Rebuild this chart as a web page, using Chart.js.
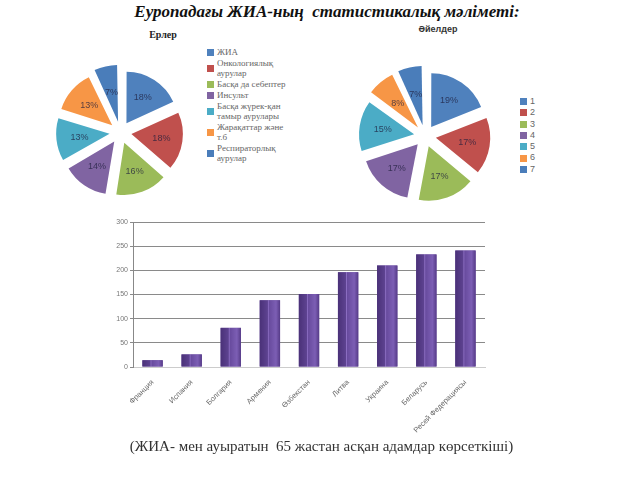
<!DOCTYPE html>
<html>
<head>
<meta charset="utf-8">
<script src="https://cdn.jsdelivr.net/npm/chart.js"></script>
<style>
    body { margin: 0; background: #fff; }
    #page { position: relative; width: 640px; height: 480px; overflow: hidden; }
    .abs { position: absolute; }
    #mainTitle {
        left: 0; width: 640px; top: 2px; text-align: center;
        font: italic bold 17px "Liberation Serif", serif; color: #111;
        padding-left: 14px; box-sizing: border-box;
    }
    #caption {
        left: 0; width: 640px; top: 438px; text-align: center;
        font: 15px "Liberation Serif", serif; color: #333;
        padding-left: 3px; box-sizing: border-box;
    }
    #menTitle { left: 128px; width: 70px; top: 29px; text-align: center;
        font: bold 10px "Liberation Serif", serif; color: #222; }
    #womenTitle { left: 403px; width: 70px; top: 24px; text-align: center;
        font: bold 9px "Liberation Sans", sans-serif; color: #333; }
    #menLegend { left: 207px; top: 47px; width: 80px;
        font: 9px "Liberation Serif", serif; color: #666; line-height: 10px; }
    #womenLegend { left: 520px; top: 96px;
        font: 9px "Liberation Sans", sans-serif; color: #666; line-height: 11.3px; }
    .item { display: flex; align-items: center; }
    .sw { width: 7px; height: 7px; flex: none; margin-right: 3px; }
    #menLegend .item { margin-bottom: 1px; }
</style>
</head>
<body>
<div id="page">
    <div id="mainTitle" class="abs">Еуропадағы ЖИА-ның&nbsp; статистикалық мәліметі:</div>
    <div id="menTitle" class="abs">Ерлер</div>
    <div id="womenTitle" class="abs">Әйелдер</div>
    <canvas id="menPie" class="abs" width="145" height="145" style="left:48px;top:60px"></canvas>
    <canvas id="womenPie" class="abs" width="150" height="150" style="left:350px;top:61px"></canvas>
    <div id="menLegend" class="abs"></div>
    <div id="womenLegend" class="abs"></div>
    <canvas id="bars" class="abs" width="400" height="236" style="left:95px;top:212px"></canvas>
    <div id="caption" class="abs">(ЖИА- мен ауыратын&nbsp; 65 жастан асқан адамдар көрсеткіші)</div>
</div>

<script>
    // Деректер
    const causes = ['ЖИА', 'Онкологиялық аурулар', 'Басқа да себептер', 'Инсульт',
        'Басқа жүрек-қан тамыр аурулары', 'Жарақаттар және т.б', 'Респираторлық аурулар'];
    const womenLabels = ['1', '2', '3', '4', '5', '6', '7'];
    const menShares = [18, 18, 16, 14, 13, 13, 7];
    const womenShares = [19, 17, 17, 17, 15, 8, 7];
    const sliceColors = ['#4F81BD', '#C0504D', '#9BBB59', '#8064A2', '#4BACC6', '#F79646', '#4A7DBA'];

    const countries = ['Франция', 'Испания', 'Болгария', 'Армения', 'Өзбекстан',
        'Литва', 'Украина', 'Беларусь', 'Ресей Федерациясы'];
    const patients = [14, 26, 81, 138, 151, 196, 210, 233, 241];
    const yTicks = [0, 50, 100, 150, 200, 250, 300];

    // Пайыз белгілері (Chart.js жылжытуды offset/4 етіп салады)
    const percentLabels = {
        id: 'percentLabels',
        afterDatasetsDraw(chart) {
            const ctx = chart.ctx;
            const meta = chart.getDatasetMeta(0);
            const values = chart.data.datasets[0].data;
            const off = chart.data.datasets[0].offset / 4;
            ctx.save();
            ctx.font = '9px "Liberation Sans", sans-serif';
            ctx.fillStyle = 'rgba(30,30,60,0.75)';
            ctx.textAlign = 'center';
            ctx.textBaseline = 'middle';
            meta.data.forEach((arc, i) => {
                const mid = (arc.startAngle + arc.endAngle) / 2;
                const r = arc.outerRadius * 0.6 + off;
                ctx.fillText(values[i] + '%', arc.x + Math.cos(mid) * r, arc.y + Math.sin(mid) * r);
            });
            ctx.restore();
        }
    };

    function makePie(id, data) {
        new Chart(document.getElementById(id), {
            type: 'pie',
            data: {
                labels: causes,
                datasets: [{
                    data: data,
                    backgroundColor: sliceColors,
                    borderWidth: 0,
                    offset: 44
                }]
            },
            options: {
                responsive: false,
                animation: false,
                layout: { padding: 0 },
                plugins: { legend: { display: false }, tooltip: { enabled: false } }
            },
            plugins: [percentLabels]
        });
    }

    makePie('menPie', menShares);
    makePie('womenPie', womenShares);

    // HTML легендалар
    function buildLegend(id, labels) {
        const box = document.getElementById(id);
        labels.forEach((txt, i) => {
            const item = document.createElement('div');
            item.className = 'item';
            item.innerHTML = '<span class="sw" style="background:' + sliceColors[i] + '"></span><span>' + txt + '</span>';
            box.appendChild(item);
        });
    }
    buildLegend('menLegend', causes);
    buildLegend('womenLegend', womenLabels);

    // Бағаналарға градиент
    const barShade = {
        id: 'barShade',
        afterDatasetsDraw(chart) {
            const ctx = chart.ctx;
            chart.getDatasetMeta(0).data.forEach(bar => {
                const left = bar.x - bar.width / 2;
                const g = ctx.createLinearGradient(left, 0, left + bar.width, 0);
                g.addColorStop(0, '#4a3178');
                g.addColorStop(0.38, '#5d4290');
                g.addColorStop(0.42, '#8b6dc1');
                g.addColorStop(0.47, '#684b9e');
                g.addColorStop(0.8, '#7c5eb4');
                g.addColorStop(1, '#563b88');
                ctx.fillStyle = g;
                ctx.fillRect(left, bar.y, bar.width, bar.base - bar.y);
            });
        }
    };

    new Chart(document.getElementById('bars'), {
        type: 'bar',
        data: {
            labels: countries,
            datasets: [{
                data: patients,
                backgroundColor: '#6a4c9f',
                barPercentage: 0.52,
                categoryPercentage: 1
            }]
        },
        options: {
            responsive: false,
            animation: false,
            layout: { padding: { top: 10, right: 10 } },
            plugins: { legend: { display: false }, tooltip: { enabled: false } },
            scales: {
                x: {
                    grid: { display: false, drawTicks: true },
                    border: { color: '#ccc' },
                    ticks: {
                        minRotation: 45, maxRotation: 45,
                        color: '#6a6a6a',
                        font: { family: '"Liberation Sans", sans-serif', size: 7.5 }
                    },
                    afterFit: s => { s.height = 81; }
                },
                y: {
                    min: 0, max: 300,
                    afterBuildTicks: s => { s.ticks = yTicks.map(v => ({ value: v })); },
                    grid: { color: '#8a8a8a', drawTicks: true, tickLength: 3 },
                    border: { color: '#888' },
                    ticks: {
                        color: '#777', padding: 2,
                        font: { family: '"Liberation Sans", sans-serif', size: 7 }
                    },
                    afterFit: s => { s.width = 38; }
                }
            }
        },
        plugins: [barShade]
    });
</script>
</body>
</html>
